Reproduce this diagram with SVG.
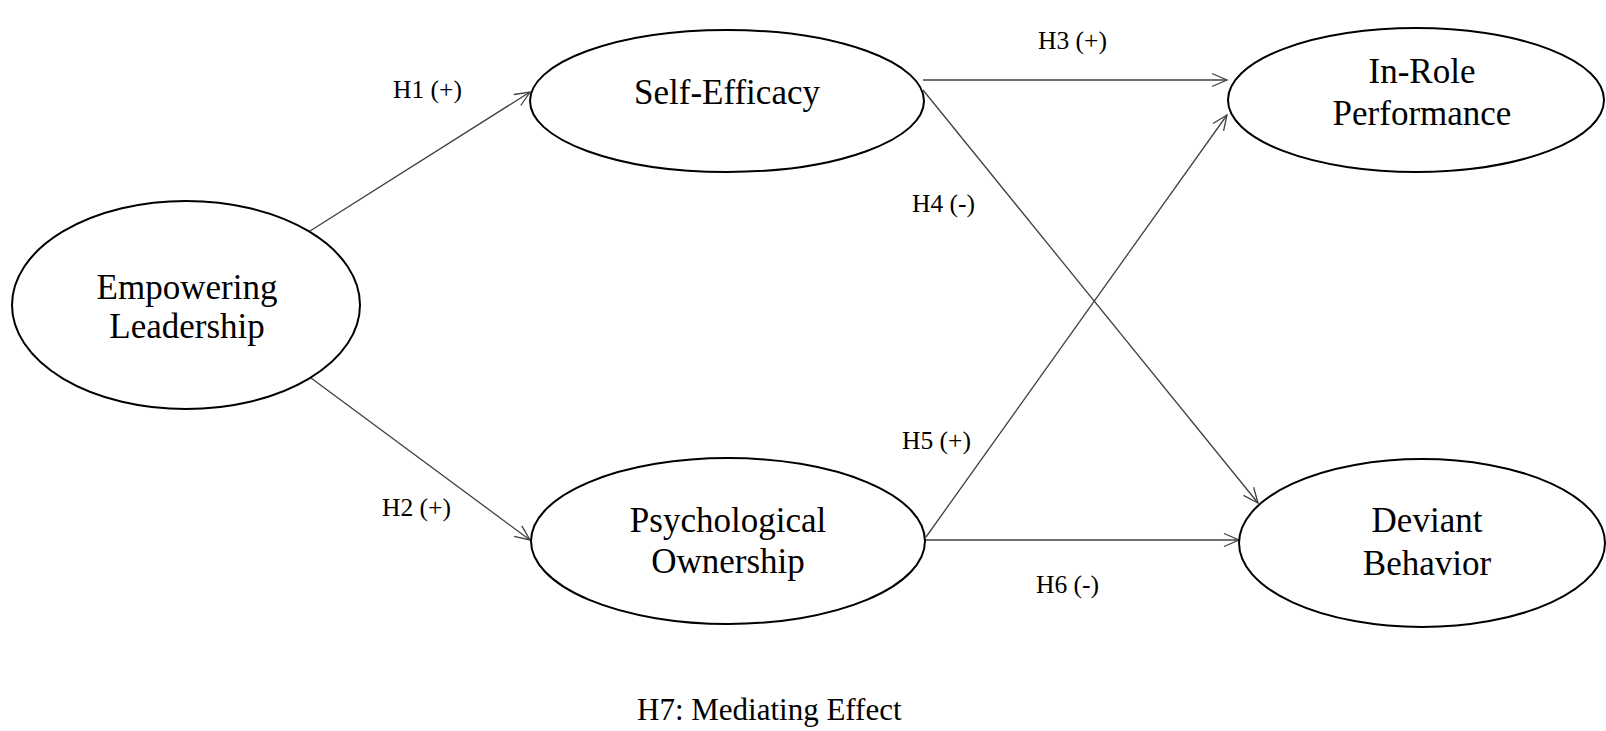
<svg xmlns="http://www.w3.org/2000/svg" width="1606" height="731" viewBox="0 0 1606 731">
<style>
.node{fill:#fff;stroke:#000;stroke-width:2}
.nt{font-family:"Liberation Serif","Times New Roman",serif;font-size:35px;fill:#000;text-anchor:middle}
.lbl{font-family:"Liberation Serif","Times New Roman",serif;font-size:25.5px;fill:#000}
.edge{stroke:#404040;stroke-width:1.3;fill:none;marker-end:url(#arr)}
</style>
<defs>
<marker id="arr" markerUnits="userSpaceOnUse" markerWidth="20" markerHeight="16" viewBox="-16 -8 20 16" refX="0" refY="0" orient="auto">
<path d="M-15,-6.5 L0,0 L-15,6.5" fill="none" stroke="#404040" stroke-width="1.3"/>
</marker>
</defs>
<rect width="1606" height="731" fill="#fff"/>
<g id="connectors">
<line class="edge" x1="310" y1="231" x2="530" y2="92"/>
<line class="edge" x1="311" y1="378" x2="530" y2="540"/>
<line class="edge" x1="923" y1="80" x2="1227" y2="80"/>
<line class="edge" x1="923" y1="90" x2="1258" y2="503"/>
<line class="edge" x1="926" y1="537" x2="1227" y2="115"/>
<line class="edge" x1="925" y1="540" x2="1239" y2="540"/>
</g>
<g id="empowering-leadership">
<ellipse class="node" cx="186" cy="305" rx="174" ry="104"/>
<text class="nt" x="187" y="299">Empowering</text>
<text class="nt" x="187" y="338">Leadership</text>
</g>
<g id="self-efficacy">
<ellipse class="node" cx="727" cy="101" rx="197" ry="71"/>
<text class="nt" x="727" y="104">Self-Efficacy</text>
</g>
<g id="psychological-ownership">
<ellipse class="node" cx="728" cy="541" rx="197" ry="83"/>
<text class="nt" x="728" y="532">Psychological</text>
<text class="nt" x="728" y="573">Ownership</text>
</g>
<g id="in-role-performance">
<ellipse class="node" cx="1416" cy="100" rx="188" ry="72"/>
<text class="nt" x="1422" y="83">In-Role</text>
<text class="nt" x="1422" y="125">Performance</text>
</g>
<g id="deviant-behavior">
<ellipse class="node" cx="1422" cy="543" rx="183" ry="84"/>
<text class="nt" x="1427" y="532">Deviant</text>
<text class="nt" x="1427" y="575">Behavior</text>
</g>
<g id="labels">
<text class="lbl" x="393" y="98">H1 (+)</text>
<text class="lbl" x="382" y="516">H2 (+)</text>
<text class="lbl" x="1038" y="49">H3 (+)</text>
<text class="lbl" x="912" y="212">H4 (-)</text>
<text class="lbl" x="902" y="449">H5 (+)</text>
<text class="lbl" x="1036" y="593">H6 (-)</text>
<text class="lbl" x="637" y="720" style="font-size:31px">H7: Mediating Effect</text>
</g>
</svg>
